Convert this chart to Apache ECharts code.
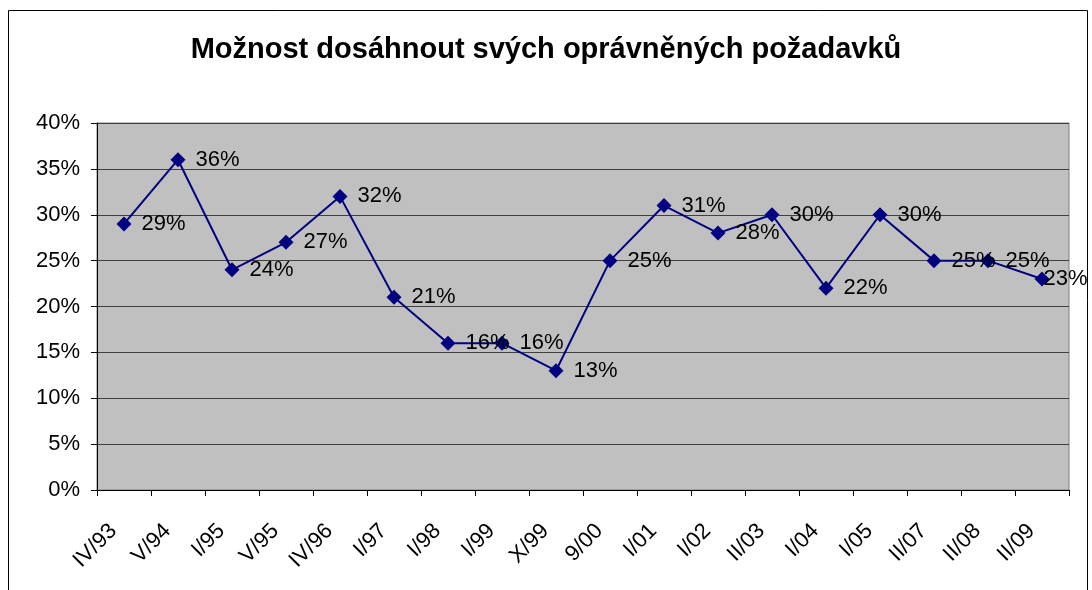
<!DOCTYPE html>
<html><head><meta charset="utf-8">
<script src="https://cdn.jsdelivr.net/npm/echarts@6/dist/echarts.min.js"></script>
<style>html,body{margin:0;padding:0;background:#fff}#c{width:1092px;height:590px}</style>
</head><body><div id="c"></div>
<script>
const titleText = 'Možnost dosáhnout svých oprávněných požadavků';
const categories = ['IV/93','V/94','I/95','V/95','IV/96','I/97','I/98','I/99','X/99','9/00','I/01','I/02','II/03','I/04','I/05','II/07','II/08','II/09'];
const values = [29,36,24,27,32,21,16,16,13,25,31,28,30,22,30,25,25,23];
const yTicks = [0,5,10,15,20,25,30,35,40];

const chart = echarts.init(document.getElementById('c'));
const F = '"Liberation Sans", Arial, sans-serif';
const seriesData = values.map((v, i) => i === values.length - 1
  ? {value: v, label: {distance: -6}}
  : v);
chart.setOption({
  animation:false,
  backgroundColor:'#fff',
  title:{text:titleText,left:'center',top:30,textStyle:{fontFamily:F,fontSize:29,fontWeight:'bold',color:'#000'}},
  graphic:[{type:'rect',shape:{x:8.5,y:10.5,width:1079,height:600},style:{fill:'none',stroke:'#000',lineWidth:1},z:-1}],
  grid:{left:97,right:23,top:123,bottom:100,show:true,backgroundColor:'#C0C0C0',borderColor:'#808080',borderWidth:1},
  xAxis:{type:'category',data:categories,boundaryGap:true,
    axisLine:{lineStyle:{color:'#000',width:1}},
    axisTick:{show:true,length:6,lineStyle:{color:'#000'}},
    axisLabel:{rotate:45,fontFamily:F,fontSize:22,color:'#000',margin:27,padding:[0,15,0,0],interval:0}},
  yAxis:{type:'value',min:0,max:40,interval:5,
    axisLine:{show:true,lineStyle:{color:'#000'}},
    axisTick:{show:true,length:6,lineStyle:{color:'#000'}},
    splitLine:{lineStyle:{color:'#404040',width:1}},
    axisLabel:{fontFamily:F,fontSize:22,color:'#000',margin:17,formatter:v=>v+'%'}},
  series:[{type:'line',data:seriesData,symbol:'diamond',symbolSize:15,
    lineStyle:{color:'#000080',width:2},itemStyle:{color:'#000080'},
    label:{show:true,position:'right',distance:10,fontFamily:F,fontSize:22,color:'#000',formatter:p=>p.value+'%'}}]
});
</script></body></html>
